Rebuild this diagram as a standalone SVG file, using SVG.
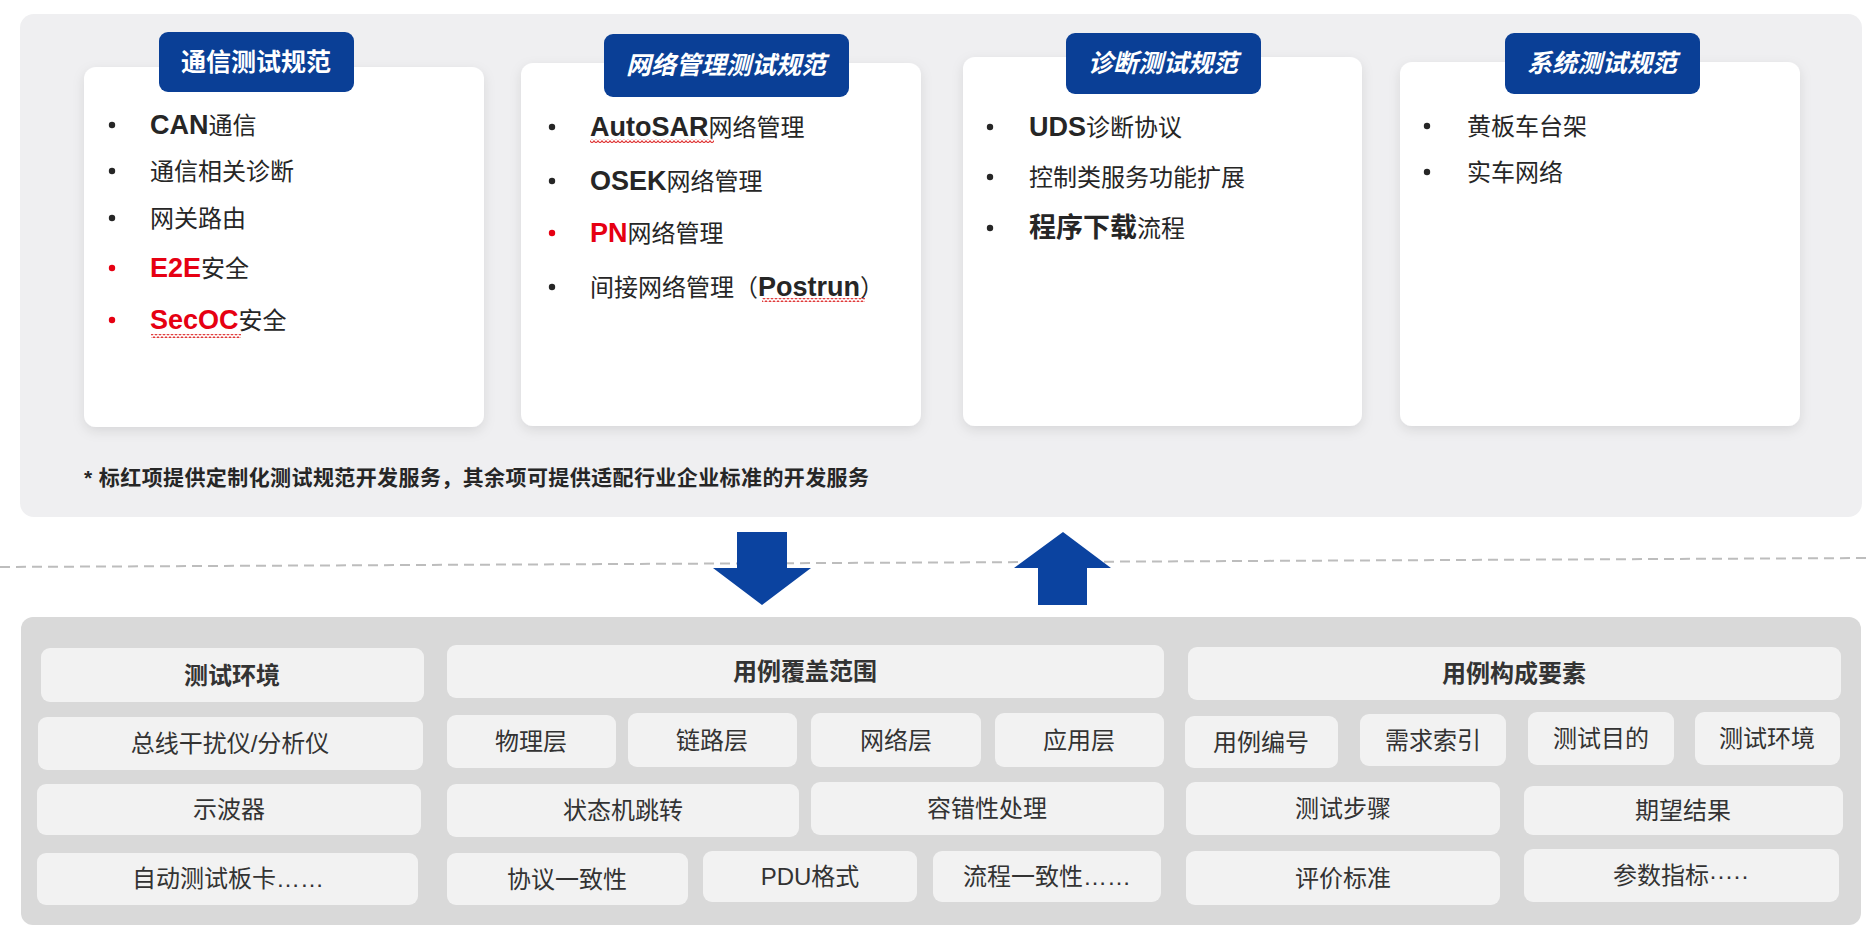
<svg xmlns="http://www.w3.org/2000/svg" width="1869" height="930" viewBox="0 0 1869 930">
<defs>
<style>
text{font-family:"Liberation Sans","Noto Sans CJK SC",sans-serif;fill:#262626;}
.card{fill:#ffffff;filter:url(#sh);}
.tab{fill:#0a3f96;}
.tabt{fill:#ffffff;font-weight:bold;font-size:25px;text-anchor:middle;}
.it{font-style:italic;}
.item{font-size:24px;}
.b{font-weight:bold;font-size:27px;}
.red{fill:#e60012;}
.dot{fill:#262626;}
.rdot{fill:#e60012;}
.cell{fill:#f2f2f2;}
.ct{font-size:24px;text-anchor:middle;fill:#333333;}
.hd{font-weight:bold;}
.arrow{fill:#0b43a0;}
</style>
<filter id="sh" x="-10%" y="-10%" width="120%" height="125%">
<feDropShadow dx="0" dy="4" stdDeviation="6" flood-color="#000000" flood-opacity="0.10"/>
</filter>
<pattern id="wave" width="4" height="4" patternUnits="userSpaceOnUse">
<path d="M0,3.2 L2,0.8 L4,3.2" fill="none" stroke="#e03a3a" stroke-width="1.1"/>
</pattern>
</defs>

<rect x="20" y="14" width="1842" height="503" rx="14" fill="#efeff1"/>

<g id="card-comm">
<rect class="card" x="84" y="67" width="400" height="360" rx="12"/>
<rect class="tab" x="159" y="32" width="195" height="60" rx="9"/>
<text class="tabt" x="256" y="71">通信测试规范</text>
<circle class="dot" cx="112" cy="125" r="3.2"/>
<text class="item" x="150" y="134"><tspan class="b" font-size="25">CAN</tspan>通信</text>
<circle class="dot" cx="112" cy="171" r="3.2"/>
<text class="item" x="150" y="180">通信相关诊断</text>
<circle class="dot" cx="112" cy="218" r="3.2"/>
<text class="item" x="150" y="227">网关路由</text>
<circle class="rdot" cx="112" cy="268" r="3.2"/>
<text class="item" x="150" y="277"><tspan class="b red" font-size="26">E2E</tspan>安全</text>
<circle class="rdot" cx="112" cy="320" r="3.2"/>
<text class="item" x="150" y="329"><tspan class="b red" font-size="26">SecOC</tspan>安全</text>
<rect x="151" y="334" width="90" height="4" fill="url(#wave)"/>
</g>

<g id="card-nm">
<rect class="card" x="521" y="63" width="400" height="363" rx="12"/>
<rect class="tab" x="604" y="34" width="245" height="63" rx="9"/>
<text class="tabt it" x="726" y="74" font-size="27">网络管理测试规范</text>
<circle class="dot" cx="552" cy="127" r="3.2"/>
<text class="item" x="590" y="136"><tspan class="b">AutoSAR</tspan>网络管理</text>
<rect x="590" y="139" width="124" height="4" fill="url(#wave)"/>
<circle class="dot" cx="552" cy="181" r="3.2"/>
<text class="item" x="590" y="190"><tspan class="b">OSEK</tspan>网络管理</text>
<circle class="rdot" cx="552" cy="233" r="3.2"/>
<text class="item" x="590" y="242"><tspan class="b red">PN</tspan>网络管理</text>
<circle class="dot" cx="552" cy="287" r="3.2"/>
<text class="item" x="590" y="296">间接网络管理（<tspan class="b" font-size="25">Postrun</tspan>）</text>
<rect x="762" y="298" width="103" height="4" fill="url(#wave)"/>
</g>

<g id="card-diag">
<rect class="card" x="963" y="57" width="399" height="369" rx="12"/>
<rect class="tab" x="1066" y="33" width="195" height="61" rx="9"/>
<text class="tabt it" x="1163" y="72">诊断测试规范</text>
<circle class="dot" cx="990" cy="127" r="3.2"/>
<text class="item" x="1029" y="136"><tspan class="b">UDS</tspan>诊断协议</text>
<circle class="dot" cx="990" cy="177" r="3.2"/>
<text class="item" x="1029" y="186">控制类服务功能扩展</text>
<circle class="dot" cx="990" cy="228" r="3.2"/>
<text class="item" x="1029" y="237"><tspan class="b" font-size="26">程序下载</tspan>流程</text>
</g>

<g id="card-sys">
<rect class="card" x="1400" y="62" width="400" height="364" rx="12"/>
<rect class="tab" x="1505" y="33" width="195" height="61" rx="9"/>
<text class="tabt it" x="1602" y="72">系统测试规范</text>
<circle class="dot" cx="1427" cy="126" r="3.2"/>
<text class="item" x="1467" y="135">黄板车台架</text>
<circle class="dot" cx="1427" cy="172" r="3.2"/>
<text class="item" x="1467" y="181">实车网络</text>
</g>

<text x="84" y="485" font-size="21" font-weight="bold" textLength="785" lengthAdjust="spacing">* 标红项提供定制化测试规范开发服务，其余项可提供适配行业企业标准的开发服务</text>

<line x1="0" y1="567" x2="1869" y2="558" stroke="#bdbdbd" stroke-width="2" stroke-dasharray="10 6"/>

<g id="connectors">
<polygon class="arrow" points="737,532 787,532 787,568 811,568 762,605 713,568 737,568"/>
<polygon class="arrow" points="1063,532 1111,568 1087,568 1087,605 1038,605 1038,568 1014,568"/>
</g>

<rect x="21" y="617" width="1840" height="308" rx="12" fill="#d9d9d9"/>

<g id="env">
<rect class="cell" x="41" y="648" width="383" height="54" rx="9"/>
<text class="ct hd" x="232" y="684">测试环境</text>
<rect class="cell" x="38" y="717" width="385" height="53" rx="9"/>
<text class="ct" x="230" y="752">总线干扰仪/分析仪</text>
<rect class="cell" x="37" y="784" width="384" height="51" rx="9"/>
<text class="ct" x="229" y="818">示波器</text>
<rect class="cell" x="37" y="853" width="381" height="52" rx="9"/>
<text class="ct" x="228" y="887">自动测试板卡……</text>
</g>

<g id="coverage">
<rect class="cell" x="447" y="645" width="717" height="53" rx="9"/>
<text class="ct hd" x="805" y="680">用例覆盖范围</text>
<rect class="cell" x="447" y="715" width="169" height="53" rx="9"/>
<text class="ct" x="531" y="750">物理层</text>
<rect class="cell" x="628" y="713" width="169" height="54" rx="9"/>
<text class="ct" x="712" y="749">链路层</text>
<rect class="cell" x="811" y="713" width="170" height="54" rx="9"/>
<text class="ct" x="896" y="749">网络层</text>
<rect class="cell" x="995" y="713" width="169" height="54" rx="9"/>
<text class="ct" x="1079" y="749">应用层</text>
<rect class="cell" x="447" y="784" width="352" height="53" rx="9"/>
<text class="ct" x="623" y="819">状态机跳转</text>
<rect class="cell" x="811" y="782" width="353" height="53" rx="9"/>
<text class="ct" x="987" y="817">容错性处理</text>
<rect class="cell" x="447" y="853" width="241" height="52" rx="9"/>
<text class="ct" x="567" y="888">协议一致性</text>
<rect class="cell" x="703" y="851" width="214" height="51" rx="9"/>
<text class="ct" x="810" y="885">PDU格式</text>
<rect class="cell" x="933" y="851" width="228" height="51" rx="9"/>
<text class="ct" x="1047" y="885">流程一致性……</text>
</g>

<g id="elements">
<rect class="cell" x="1188" y="647" width="653" height="53" rx="9"/>
<text class="ct hd" x="1514" y="682">用例构成要素</text>
<rect class="cell" x="1185" y="716" width="153" height="52" rx="9"/>
<text class="ct" x="1261" y="751">用例编号</text>
<rect class="cell" x="1360" y="714" width="146" height="52" rx="9"/>
<text class="ct" x="1433" y="749">需求索引</text>
<rect class="cell" x="1528" y="712" width="146" height="53" rx="9"/>
<text class="ct" x="1601" y="747">测试目的</text>
<rect class="cell" x="1695" y="712" width="145" height="53" rx="9"/>
<text class="ct" x="1767" y="747">测试环境</text>
<rect class="cell" x="1186" y="782" width="314" height="53" rx="9"/>
<text class="ct" x="1343" y="817">测试步骤</text>
<rect class="cell" x="1524" y="786" width="319" height="49" rx="9"/>
<text class="ct" x="1683" y="819">期望结果</text>
<rect class="cell" x="1186" y="851" width="314" height="54" rx="9"/>
<text class="ct" x="1343" y="887">评价标准</text>
<rect class="cell" x="1524" y="849" width="315" height="53" rx="9"/>
<text class="ct" x="1681" y="884">参数指标·····</text>
</g>
</svg>
